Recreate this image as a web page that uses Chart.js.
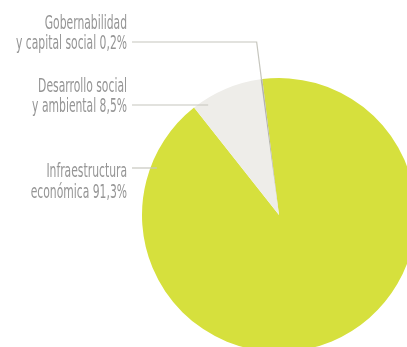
<!DOCTYPE html>
<html>
<head>
<meta charset="utf-8">
<script src="https://cdn.jsdelivr.net/npm/chart.js@4/dist/chart.umd.min.js"></script>
<style>
  html, body { margin: 0; padding: 0; background: #fff; overflow: hidden; }
  #wrap { position: relative; width: 420px; height: 360px; }
</style>
</head>
<body>
<div id="wrap"><canvas id="pie"></canvas></div>
<script>
// data, clockwise from the top
const categories = ['Infraestructura económica', 'Desarrollo social y ambiental', 'Gobernabilidad y capital social'];
const shares = [91.3, 8.5, 0.2];
const labelText = [
    ['Infraestructura', 'económica 91,3%'],
    ['Desarrollo social', 'y ambiental 8,5%'],
    ['Gobernabilidad', 'y capital social 0,2%']
];
const sliceColors = ['#d6e03d', '#eeede9', '#b4b4ac'];

window.onload = () => {
    const textRight = 127;
    const lineStart = 132;
    const lineGap = 20.5;
    const fontSize = 20;
    const fontName = '"Liberation Sans Narrow", "DejaVu Sans Condensed", "Liberation Sans", sans-serif';

    // leader y, which text line it points at, how deep it goes into the pie
    const leaders = [
        { y: 168, anchor: 0, depth: 0.955, drop: 9 },
        { y: 105, anchor: 1, depth: 0.955, drop: 7 },
        { y: 42, anchor: 1, radial: true, drop: 7 }
    ];

    const calloutPlugin = {
        id: 'callouts',
        afterDraw(chart) {
            const ctx = chart.ctx;
            const arcs = chart.getDatasetMeta(0).data;
            ctx.save();
            ctx.font = fontSize + 'px ' + fontName;
            const sx = 111 / ctx.measureText('y capital social 0,2%').width;

            leaders.forEach((ld, i) => {
                const arc = arcs[i];
                const cx = arc.x, cy = arc.y, r = arc.outerRadius;
                ctx.strokeStyle = '#c6c6be';
                ctx.lineWidth = 1.2;
                ctx.beginPath();
                ctx.moveTo(lineStart, ld.y);
                if (ld.radial) {
                    const mid = (arc.startAngle + arc.endAngle) / 2;
                    const far = (ld.y - cy) / Math.sin(mid);
                    ctx.lineTo(cx + far * Math.cos(mid), ld.y);
                    ctx.lineTo(cx + r * Math.cos(mid), cy + r * Math.sin(mid));
                } else {
                    const rr = r * ld.depth;
                    const dy = ld.y - cy;
                    ctx.lineTo(cx - Math.sqrt(rr * rr - dy * dy), ld.y);
                }
                ctx.stroke();

                ctx.fillStyle = '#959595';
                ctx.textAlign = 'right';
                ctx.textBaseline = 'alphabetic';
                labelText[i].forEach((t, k) => {
                    const base = ld.y + ld.drop + (k - ld.anchor) * lineGap;
                    ctx.save();
                    ctx.translate(textRight, base);
                    ctx.scale(sx, 1);
                    ctx.fillText(t, 0, 0);
                    ctx.restore();
                });
            });
            ctx.restore();
        }
    };

    new Chart(document.getElementById('pie'), {
        type: 'pie',
        data: {
            labels: categories,
            datasets: [{
                data: shares,
                backgroundColor: sliceColors,
                borderWidth: 0,
                hoverOffset: 0,
                radius: 137
            }]
        },
        options: {
            responsive: true,
            maintainAspectRatio: false,
            animation: false,
            rotation: -7,
            layout: {
                padding: { left: 142, top: 78, right: 4, bottom: 8 }
            },
            plugins: {
                legend: { display: false },
                tooltip: { enabled: false }
            },
            events: []
        },
        plugins: [calloutPlugin]
    });
};
</script>
</body>
</html>
